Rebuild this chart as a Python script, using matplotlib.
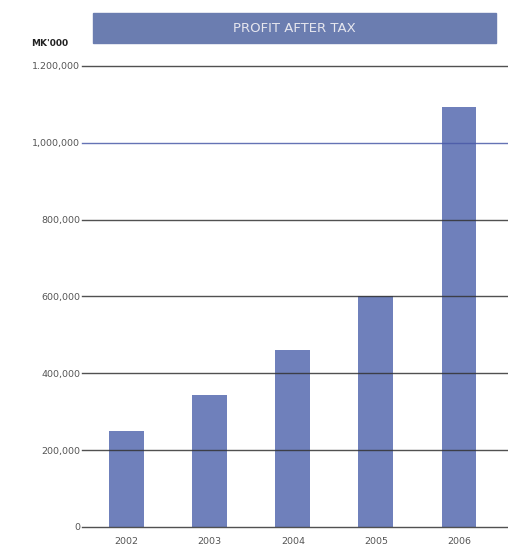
import matplotlib.pyplot as plt
from matplotlib.patches import Rectangle

years = ["2002", "2003", "2004", "2005", "2006"]
profit = [250000, 344000, 461000, 602000, 1094000]
yticks = [0, 200000, 400000, 600000, 800000, 1000000, 1200000]
ytick_labels = ["0", "200,000", "400,000", "600,000", "800,000", "1,000,000", "1.200,000"]

bar_color = "#6f80bb"
text_color = "#555555"

fig = plt.figure(figsize=(5.08, 5.5), dpi=100)
ax = fig.add_axes([0.161, 0.042, 0.839, 0.838])

ax.bar(range(len(years)), profit, width=0.42, color=bar_color, zorder=1)

# grid lines run across the bars in the original
for v in yticks:
    c = "#4a5aa8" if v == 1000000 else "#333333"
    ax.axhline(v, color=c, lw=1.0, zorder=2, alpha=0.85, clip_on=False)

ax.set_xlim(-0.54, 4.59)
ax.set_ylim(0, 1200000)
ax.set_yticks(yticks)
ax.set_yticklabels(ytick_labels)
ax.set_xticks(range(len(years)))
ax.set_xticklabels(years)
ax.tick_params(axis="both", length=0, labelsize=6.8, labelcolor=text_color)
ax.tick_params(axis="y", pad=1)
ax.tick_params(axis="x", pad=7)
for s in ax.spines.values():
    s.set_visible(False)

# title banner
fig.patches.append(Rectangle((93 / 508, 1 - 43 / 550), 403 / 508, 30 / 550,
                             transform=fig.transFigure, color="#6b7db0", zorder=0))
fig.text(294 / 508, 1 - 29 / 550, "PROFIT AFTER TAX", ha="center", va="center",
         color="#e6e6ee", fontsize=9.5)
fig.text(50 / 508, 1 - 44 / 550, "MK'000", ha="center", va="center",
         color="#222222", fontsize=6.5, fontweight="bold")

fig.savefig("out.png", dpi=100)
